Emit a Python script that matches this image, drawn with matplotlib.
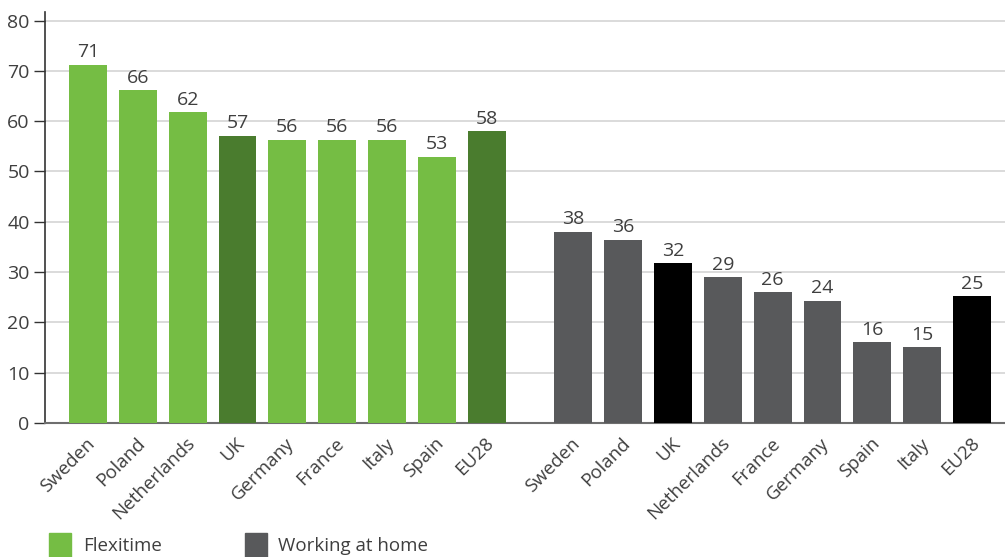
import matplotlib
matplotlib.use("Agg")
import matplotlib.pyplot as plt
from matplotlib.patches import Rectangle
import matplotlib.transforms as mtransforms

# ---- data ----
flex_countries = ["Sweden", "Poland", "Netherlands", "UK", "Germany", "France", "Italy", "Spain", "EU28"]
flex_values = [71.2, 66.2, 61.8, 57.1, 56.3, 56.3, 56.3, 52.9, 58.0]
home_countries = ["Sweden", "Poland", "UK", "Netherlands", "France", "Germany", "Spain", "Italy", "EU28"]
home_values = [38.0, 36.4, 31.8, 29.0, 26.0, 24.3, 16.1, 15.1, 25.2]
yticks = [0, 10, 20, 30, 40, 50, 60, 70, 80]
legend_labels = ["Flexitime", "Working at home"]

C_FLEX = "#75bd44"
C_FLEX_DARK = "#4a7c2e"
C_HOME = "#58595b"
C_HOME_DARK = "#000000"
TXT = "#3f3f3f"

plt.rcParams['font.family'] = ['Open Sans', 'DejaVu Sans']

fig = plt.figure(figsize=(10.05, 5.57), dpi=100)
W, H = 1005, 557
ax = fig.add_axes([45 / W, 1 - 423 / H, 1 - 45 / W, (423 - 12) / H])

gap = 9.73
x1 = list(range(len(flex_values)))
x2 = [gap + i for i in range(len(home_values))]

def col(names, base, dark):
    return [dark if n in ("UK", "EU28") else base for n in names]

bw = 0.76
ax.bar(x1, flex_values, width=bw, color=col(flex_countries, C_FLEX, C_FLEX_DARK), zorder=3)
ax.bar(x2, home_values, width=bw, color=col(home_countries, C_HOME, C_HOME_DARK), zorder=3)

for xs, vals in ((x1, flex_values), (x2, home_values)):
    for x, v in zip(xs, vals):
        ax.annotate(f"{round(v)}", (x, v), xytext=(0, 2.5), textcoords="offset points",
                    ha="center", va="bottom", fontsize=14, color=TXT)

ax.set_xlim(-0.86, x2[-1] + 0.66)
ax.set_ylim(0, 81.7)
ax.set_yticks(yticks)
ax.set_yticklabels([str(t) for t in yticks], fontsize=14, color=TXT)
ax.tick_params(axis="y", length=8, width=1, color="#333333", pad=3)
ax.yaxis.grid(True, color="#d4d4d4", linewidth=1.2, zorder=0)
ax.set_axisbelow(True)

ax.set_xticks(x1 + x2)
ax.set_xticklabels(flex_countries + home_countries, rotation=45, ha="right",
                   rotation_mode="anchor", fontsize=13.5, color=TXT)
ax.tick_params(axis="x", length=0, pad=8)
offset = mtransforms.ScaledTranslation(-2 / 100, 0, fig.dpi_scale_trans)
for lab in ax.get_xticklabels():
    lab.set_transform(lab.get_transform() + offset)

for s in ("top", "right"):
    ax.spines[s].set_visible(False)
ax.spines["left"].set_color("#333333")
ax.spines["left"].set_linewidth(1.2)
ax.spines["bottom"].set_color("#6e6e6e")
ax.spines["bottom"].set_linewidth(1.5)

# legend
for (lx, tx), lab, c in zip(((49, 83), (245, 278)), legend_labels, (C_FLEX, C_HOME)):
    fig.add_artist(Rectangle((lx / W, 0), 22 / W, 24 / H, transform=fig.transFigure,
                             color=c, clip_on=False))
    fig.text(tx / W, 1 - 546 / H, lab, ha="left", va="center", fontsize=13.5, color=TXT)

fig.savefig("out.png", dpi=100)
